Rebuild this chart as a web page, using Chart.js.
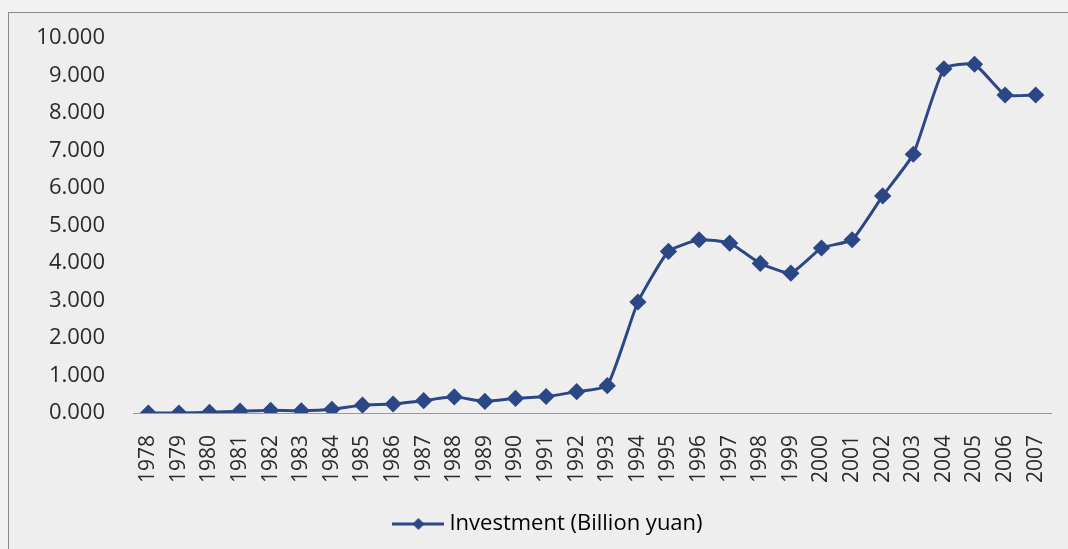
<!DOCTYPE html>
<html>
<head>
<meta charset="utf-8">
<script src="https://cdn.jsdelivr.net/npm/chart.js@4"></script>
<style>
  html, body { margin: 0; padding: 0; background: #f1f1f1; overflow: hidden; }
  #frame {
    position: absolute; left: 8px; top: 12px;
    width: 1070px; height: 545px;
    border: 1px solid #8a8a8a;
    background: #eeeeee;
  }
  #chart { position: absolute; left: 0; top: 0; display: block; }
</style>
</head>
<body>
<div id="frame"></div>
<canvas id="chart" width="1068" height="549"></canvas>
<script>
const years = ['1978', '1979', '1980', '1981', '1982', '1983', '1984', '1985', '1986', '1987',
    '1988', '1989', '1990', '1991', '1992', '1993', '1994', '1995', '1996', '1997',
    '1998', '1999', '2000', '2001', '2002', '2003', '2004', '2005', '2006', '2007'];
const investment = [0.00, 0.00, 0.02, 0.05, 0.07, 0.06, 0.10, 0.21, 0.24, 0.33,
    0.43, 0.31, 0.39, 0.44, 0.57, 0.73, 2.96, 4.31, 4.62, 4.53,
    3.99, 3.73, 4.40, 4.62, 5.79, 6.90, 9.18, 9.30, 8.48, 8.48];
const seriesLabel = 'Investment (Billion yuan)';
const yMin = 0;
const yMax = 10;
const yStep = 1;

const lineColor = '#2b4785';

// legend marker: line with a diamond in the middle
function makeLegendMarker() {
    const c = document.createElement('canvas');
    c.width = 52;
    c.height = 14;
    const ctx = c.getContext('2d');
    ctx.strokeStyle = lineColor;
    ctx.lineWidth = 3;
    ctx.beginPath();
    ctx.moveTo(0, 7);
    ctx.lineTo(52, 7);
    ctx.stroke();
    ctx.fillStyle = lineColor;
    ctx.beginPath();
    ctx.moveTo(26, 1);
    ctx.lineTo(32, 7);
    ctx.lineTo(26, 13);
    ctx.lineTo(20, 7);
    ctx.closePath();
    ctx.fill();
    return c;
}
const legendMarker = makeLegendMarker();

// the left padding only centres the legend; let the y labels use the space left of it
const unclipYLabels = {
    id: 'unclipYLabels',
    afterLayout(chart) {
        chart.scales.y.left = 0;
    }
};

new Chart(document.getElementById('chart'), {
    type: 'line',
    data: {
        labels: years,
        datasets: [{
            label: seriesLabel,
            data: investment,
            borderColor: lineColor,
            backgroundColor: lineColor,
            borderWidth: 3,
            pointStyle: 'rectRot',
            pointRadius: 6.5,
            pointBackgroundColor: lineColor,
            pointBorderColor: lineColor,
            tension: 0.15,
            fill: false
        }]
    },
    options: {
        responsive: false,
        animation: false,
        layout: { padding: { top: 0, right: 17, left: 50, bottom: 4 } },
        scales: {
            x: {
                offset: true,
                grid: { display: false, drawTicks: false },
                border: { display: true, color: '#9a9a9a', width: 1 },
                ticks: {
                    autoSkip: false,
                    minRotation: 90,
                    maxRotation: 90,
                    padding: 22,
                    color: '#2a2a2a',
                    font: { family: 'Open Sans', size: 21 }
                },
                afterFit: scale => {
                    scale.height = 90;
                    scale.paddingLeft = 0;
                    scale.paddingRight = 0;
                }
            },
            y: {
                min: yMin,
                max: yMax,
                grid: { display: false, drawTicks: false },
                border: { display: false },
                ticks: {
                    stepSize: yStep,
                    padding: 28,
                    color: '#2a2a2a',
                    font: { family: 'Open Sans', size: 22 },
                    callback: v => Number(v).toFixed(3)
                },
                afterFit: scale => {
                    scale.width = 83;
                    scale.paddingTop = 38;
                    scale.paddingBottom = 0;
                }
            }
        },
        plugins: {
            tooltip: { enabled: false },
            legend: {
                position: 'bottom',
                labels: {
                    usePointStyle: true,
                    pointStyleWidth: 40,
                    color: '#2a2a2a',
                    font: { family: 'Open Sans', size: 22 },
                    generateLabels: chart => chart.data.datasets.map((ds, i) => ({
                        text: ds.label,
                        pointStyle: legendMarker,
                        fillStyle: lineColor,
                        strokeStyle: lineColor,
                        lineWidth: 0,
                        datasetIndex: i
                    }))
                }
            }
        }
    },
    plugins: [unclipYLabels]
});
</script>
</body>
</html>
